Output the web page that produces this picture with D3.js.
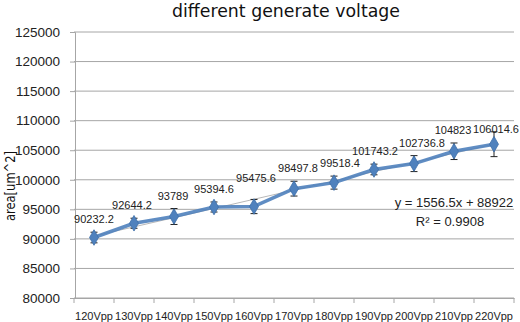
<!DOCTYPE html>
<html>
<head>
<meta charset="utf-8">
<script src="https://cdn.jsdelivr.net/npm/d3@7"></script>
<style>
  body { margin: 0; background: #fff; }
  svg { display: block; }
</style>
</head>
<body>
<svg></svg>
<script>
const categories = ["120Vpp", "130Vpp", "140Vpp", "150Vpp", "160Vpp", "170Vpp",
                    "180Vpp", "190Vpp", "200Vpp", "210Vpp", "220Vpp"];
const areaMeans = [90232.2, 92644.2, 93789, 95394.6, 95475.6, 98497.8,
                   99518.4, 101743.2, 102736.8, 104823, 106014.6];
const errorBars = [900, 850, 1350, 850, 1200, 1250, 1100, 900, 1350, 1400, 2100];
const yTicks = [80000, 85000, 90000, 95000, 100000, 105000, 110000, 115000, 120000, 125000];
const trendSlope = 1556.5;
const trendIntercept = 88922;
const trendLabels = ["y = 1556.5x + 88922", "R² = 0.9908"];

// label nudges (some labels were dragged in the original)
const labelNudge = [[0, 0], [-2, 0], [-1, 0], [0, 0], [2, -8], [4, 0],
                    [6, 0], [1, 0], [8, 0], [-1, 0], [2, 10]];

const width = 520;
const height = 322;
const margin = {top: 32, right: 6, bottom: 24, left: 74};

const svg = d3.select("svg")
              .attr("width", width)
              .attr("height", height);

const x = d3.scaleBand()
            .domain(categories)
            .range([margin.left, width - margin.right]);
const y = d3.scaleLinear()
            .domain([80000, 125000])
            .range([height - margin.bottom, margin.top]);

const gridColor = "#a6a6a6";
const blue = "#4f81bd";

// gridlines
svg.append("g").selectAll("line")
    .data(yTicks)
    .enter()
    .append("line")
      .attr("x1", margin.left)
      .attr("x2", width - margin.right)
      .attr("y1", d => y(d))
      .attr("y2", d => y(d))
      .attr("stroke", gridColor)
      .attr("stroke-width", 1);

// y axis
const yAxis = svg.append("g")
    .attr("transform", "translate(" + (margin.left + 1) + ",0)")
    .call(d3.axisLeft(y).tickValues(yTicks).tickSize(5).tickPadding(10).tickFormat(d3.format("d")));
yAxis.select(".domain").attr("stroke", gridColor);
yAxis.selectAll(".tick line").attr("stroke", gridColor);
yAxis.selectAll("text")
    .attr("fill", "#222")
    .style("font-family", "Liberation Sans, Arial, sans-serif")
    .style("font-size", "13.5px");

// x axis
const xAxis = svg.append("g")
    .attr("transform", "translate(0," + (height - margin.bottom) + ")")
    .call(d3.axisBottom(x).tickSize(0).tickPadding(14));
xAxis.select(".domain").attr("stroke", gridColor);
xAxis.selectAll("text")
    .attr("fill", "#222")
    .style("font-family", "Liberation Sans, Arial, sans-serif")
    .style("font-size", "11px");
xAxis.append("g").selectAll("line")
    .data(d3.range(categories.length + 1))
    .enter()
    .append("line")
      .attr("x1", i => margin.left + i * x.step())
      .attr("x2", i => margin.left + i * x.step())
      .attr("y1", 0)
      .attr("y2", 5)
      .attr("stroke", gridColor);

const cx = (d, i) => x(categories[i]) + x.bandwidth() / 2;

// linear trendline
svg.append("line")
    .attr("x1", x(categories[0]) + x.bandwidth() / 2)
    .attr("y1", y(trendSlope * 1 + trendIntercept))
    .attr("x2", x(categories[categories.length - 1]) + x.bandwidth() / 2)
    .attr("y2", y(trendSlope * categories.length + trendIntercept))
    .attr("stroke", "#b8b8b8")
    .attr("stroke-width", 1);

// series line
svg.append("path")
    .datum(areaMeans)
    .attr("fill", "none")
    .attr("stroke", blue)
    .attr("stroke-width", 3.5)
    .attr("stroke-linejoin", "round")
    .attr("opacity", 0.9)
    .attr("d", d3.line().x(cx).y(d => y(d)));

// error bars
const eb = svg.append("g").selectAll("g")
    .data(areaMeans)
    .enter()
    .append("g");
eb.append("line")
    .attr("x1", cx).attr("x2", cx)
    .attr("y1", (d, i) => y(d + errorBars[i]))
    .attr("y2", (d, i) => y(d - errorBars[i]))
    .attr("stroke", "#222").attr("stroke-width", 1);
eb.append("line")
    .attr("x1", (d, i) => cx(d, i) - 3.5).attr("x2", (d, i) => cx(d, i) + 3.5)
    .attr("y1", (d, i) => y(d + errorBars[i]))
    .attr("y2", (d, i) => y(d + errorBars[i]))
    .attr("stroke", "#222").attr("stroke-width", 1);
eb.append("line")
    .attr("x1", (d, i) => cx(d, i) - 3.5).attr("x2", (d, i) => cx(d, i) + 3.5)
    .attr("y1", (d, i) => y(d - errorBars[i]))
    .attr("y2", (d, i) => y(d - errorBars[i]))
    .attr("stroke", "#222").attr("stroke-width", 1);

// diamond markers
svg.append("g").selectAll("path")
    .data(areaMeans)
    .enter()
    .append("path")
      .attr("d", d3.symbol().type(d3.symbolDiamond).size(70))
      .attr("transform", (d, i) => "translate(" + cx(d, i) + "," + y(d) + ")")
      .attr("fill", blue)
      .attr("stroke", "#3d6fa8")
      .attr("stroke-width", 0.8);

// data labels
svg.append("g").selectAll("text")
    .data(areaMeans)
    .enter()
    .append("text")
      .attr("x", (d, i) => cx(d, i) + labelNudge[i][0])
      .attr("y", (d, i) => y(d + errorBars[i]) - 9 + labelNudge[i][1])
      .attr("text-anchor", "middle")
      .attr("fill", "#222")
      .style("font-family", "Liberation Sans, Arial, sans-serif")
      .style("font-size", "11px")
      .text(d => d);

// trendline equation
svg.append("g").selectAll("text")
    .data(trendLabels)
    .enter()
    .append("text")
      .attr("x", (d, i) => i === 0 ? 454 : 450)
      .attr("y", (d, i) => 207 + i * 19)
      .attr("text-anchor", "middle")
      .attr("fill", "#222")
      .style("font-family", "Liberation Sans, Arial, sans-serif")
      .style("font-size", "13px")
      .text(d => d);

// title
svg.append("text")
    .attr("x", 286)
    .attr("y", 17)
    .attr("text-anchor", "middle")
    .attr("textLength", 228)
    .attr("lengthAdjust", "spacingAndGlyphs")
    .attr("fill", "#111")
    .style("font-family", "DejaVu Sans, sans-serif")
    .style("font-size", "17px")
    .text("different generate voltage");

// y axis title
svg.append("text")
    .attr("transform", "translate(15,186) rotate(-90)")
    .attr("text-anchor", "middle")
    .attr("textLength", 70)
    .attr("lengthAdjust", "spacingAndGlyphs")
    .attr("fill", "#111")
    .style("font-family", "DejaVu Sans, sans-serif")
    .style("font-size", "14px")
    .text("area[um^2]");
</script>
</body>
</html>
